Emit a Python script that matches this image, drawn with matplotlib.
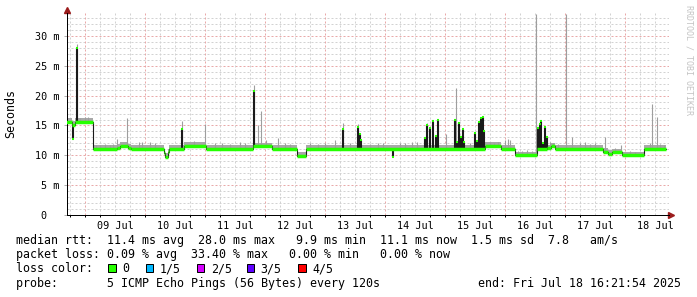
import numpy as np
import matplotlib.pyplot as plt
from matplotlib.patches import Rectangle

W, H = 697, 297
MONO = 'DejaVu Sans Mono'

# time axis: days since 09 Jul 00:00, graph ends Fri Jul 18 16:21:54
t_end = 9.682

# median rtt plateaus (step start, ms)
med_t = [-0.318, -0.217, -0.167, 0.125, 0.533, 0.583, 0.717, 0.767, 1.317, 1.333,
         1.383, 1.40, 1.65, 2.017, 2.80, 3.117, 3.533, 3.683, 6.667, 6.933,
         7.167, 7.533, 7.70, 7.767, 7.833, 8.633, 8.717, 8.783, 8.95, 9.317]
med_v = [15.6, 15.1, 15.6, 11.1, 11.3, 11.6, 11.3, 11.1, 10.4, 9.8,
         10.5, 11.1, 11.6, 11.1, 11.5, 11.1, 9.9, 11.1, 11.6, 11.1,
         10.0, 11.1, 11.2, 11.5, 11.1, 10.6, 10.3, 10.5, 10.0, 11.1]

# dense (dark) smoke columns where all pings moved
spike_t = [-0.192, -0.133, 1.617, 2.817, 4.30, 4.55, 4.575, 4.60, 5.133,
           5.667, 5.70, 5.75, 5.80, 5.842, 5.883,
           6.167, 6.20, 6.233, 6.267, 6.292, 6.317,
           6.50, 6.533, 6.567, 6.60, 6.625, 6.65,
           7.55, 7.583, 7.608, 7.633, 7.667, 7.692]
spike_v = [12.7, 28.0, 14.4, 20.7, 14.4, 14.8, 13.6, 12.6, 9.8,
           12.9, 15.1, 14.6, 15.8, 13.2, 16.0,
           15.9, 12.3, 15.5, 13.0, 14.4, 12.2,
           13.8, 12.4, 15.6, 16.3, 16.4, 14.0,
           14.6, 15.3, 15.8, 12.0, 14.8, 13.0]

# light smoke: max ping of a step
gray_t = [-0.083, 0.0, 0.05, -0.133, 0.183, 0.25, 0.333, 0.417, 0.467, 0.533,
          0.70, 0.90, 0.95, 1.083, 1.167, 1.617, 1.817, 2.0, 2.167, 2.283,
          2.417, 2.583, 2.667, 2.817, 2.883, 2.933, 3.017, 3.217, 3.333, 3.417,
          3.75, 3.883, 4.0, 4.167, 4.30, 4.417, 4.55, 4.75, 4.883, 4.967,
          5.25, 5.333, 5.45, 5.533, 5.70, 6.017, 6.183, 6.417, 6.75, 6.817,
          6.883, 7.0, 7.05, 7.083, 7.217, 7.283, 7.367, 7.45, 7.512, 7.75,
          7.80, 7.883, 8.012, 8.117, 8.25, 8.333, 8.417, 8.50, 8.667, 8.833,
          8.933, 9.083, 9.167, 9.417, 9.45, 9.533, 9.583, 9.65]
gray_v = [16.2, 16.4, 16.5, 28.6, 11.8, 11.7, 11.9, 11.8, 11.9, 12.7,
          16.3, 12.3, 12.3, 12.2, 12.1, 15.7, 12.4, 15.2, 12.1, 12.0,
          11.9, 12.2, 12.0, 21.8, 15.1, 17.4, 12.5, 12.9, 12.0, 11.9,
          12.1, 11.9, 12.0, 12.6, 15.5, 12.0, 15.2, 11.9, 12.0, 12.0,
          12.0, 12.0, 12.2, 12.3, 15.5, 13.6, 21.2, 12.0, 12.2, 12.1,
          12.3, 12.6, 12.8, 12.6, 10.8, 10.7, 10.9, 10.8, 33.6, 12.2,
          12.0, 11.9, 33.6, 13.0, 12.0, 12.2, 11.9, 12.1, 13.0, 11.3,
          11.7, 10.7, 10.6, 12.0, 18.6, 16.5, 11.9, 11.8]

day_labels = ['09 Jul', '10 Jul', '11 Jul', '12 Jul', '13 Jul',
              '14 Jul', '15 Jul', '16 Jul', '17 Jul', '18 Jul']

loss_names = ['0', '1/5', '2/5', '3/5', '4/5']
loss_colors = ['#26ff00', '#00b8ff', '#d400ff', '#5e00ff', '#ff0000']

rows = [
    'median rtt:  11.4 ms avg  28.0 ms max   9.9 ms min  11.1 ms now  1.5 ms sd  7.8   am/s',
    'packet loss: 0.09 % avg  33.40 % max   0.00 % min   0.00 % now',
    'loss color:',
    'probe:       5 ICMP Echo Pings (56 Bytes) every 120s',
]
end_text = 'end: Fri Jul 18 16:21:54 2025'

GREEN = loss_colors[0]

fig = plt.figure(figsize=(W / 100, H / 100), dpi=100)
fig.patch.set_facecolor('white')
ax = fig.add_axes([67 / W, 1 - 215 / H, (669 - 67) / W, (215 - 13) / H])
ax.set_xlim(-0.3, 9.733)
ax.set_ylim(0, 33.85)

# grid
for y in np.arange(1, 34):
    c = '#e9a9a9' if y % 5 == 0 else '#d2d2d2'
    ax.axhline(y, color=c, lw=0.72, ls=(0, (2, 2)), zorder=0)
for d in np.arange(-0.25, 9.75, 0.25):
    c = '#e9a9a9' if d == int(d) else '#d2d2d2'
    ax.axvline(d, color=c, lw=0.72, ls=(0, (2, 2)), zorder=0)

st = np.array(med_t + [t_end])
sv = np.array(med_v + [med_v[-1]])

def base_at(t):
    i = np.searchsorted(st, t, side='right') - 1
    return sv[np.clip(i, 0, len(med_v) - 1)]

# thin smoke band just above the median
ax.fill_between(st, sv, sv + 0.6, step='post', color='#a8a8a8', lw=0, zorder=1)

gt = np.array(gray_t)
ax.vlines(gt, base_at(gt), gray_v, color='#9e9e9e', lw=0.8, zorder=2)

kt = np.array(spike_t)
ax.vlines(kt, base_at(kt), spike_v, color='#1a1a1a', lw=1.5, zorder=3)

# median: black risers, green flats
ax.step(st, sv, where='post', color='#1a1a1a', lw=0.8, zorder=3)
ax.hlines(med_v, st[:-1], st[1:], color=GREEN, lw=2.5, zorder=4)
ax.plot(kt, spike_v, ls='none', marker='_', ms=2, mew=1.5, color=GREEN, zorder=5)

# axes
for s in ['top', 'right']:
    ax.spines[s].set_visible(False)
for s in ['left', 'bottom']:
    ax.spines[s].set_color('black')
    ax.spines[s].set_linewidth(0.72)

yt = np.arange(0, 31, 5)
ax.set_yticks(yt)
ax.set_yticklabels(['0  '] + [f'{v} m' for v in yt[1:]], family=MONO, fontsize=7.3)
ax.tick_params(axis='y', length=2.2, width=0.72, color='#b0b0b0', pad=3)

ax.set_xticks(np.arange(10) + 0.5)
ax.set_xticklabels(day_labels, family=MONO, fontsize=7.3)
ax.set_xticks(np.arange(-0.25, 9.75, 0.25), minor=True)
ax.tick_params(axis='x', which='major', length=0, pad=4)
ax.tick_params(axis='x', which='minor', length=1.5, width=0.72, color='black')

ax.plot(0, 1.015, marker='^', ms=4.5, color='#9b1c1c', transform=ax.transAxes, clip_on=False)
ax.plot(1.004, 0, marker='>', ms=4.5, color='#9b1c1c', transform=ax.transAxes, clip_on=False)

fig.text(11 / W, 1 - 114 / H, 'Seconds', rotation=90, ha='center', va='center',
         family=MONO, fontsize=8.37)
fig.text(688.5 / W, 1 - 60 / H, 'RRDTOOL / TOBI OETIKER', rotation=270,
         ha='center', va='center', family=MONO, fontsize=6, color='#c4c4c4')

# legend block
baselines = [243.7, 258.1, 272.5, 286.9]
for txt, b in zip(rows, baselines):
    fig.text(16 / W, 1 - b / H, txt, family=MONO, fontsize=8.37, va='baseline')
fig.text(478 / W, 1 - baselines[3] / H, end_text, family=MONO, fontsize=8.37, va='baseline')

box_x = [108.3, 145.7, 196.7, 246.7, 298.3]
for name, c, bx in zip(loss_names, loss_colors, box_x):
    fig.add_artist(Rectangle((bx / W, 1 - 271.5 / H), 7.7 / W, 7.7 / H,
                             transform=fig.transFigure, facecolor=c,
                             edgecolor='black', lw=0.72))
    fig.text((bx + 14) / W, 1 - baselines[2] / H, name, family=MONO,
             fontsize=8.37, va='baseline')

fig.savefig('out.png', dpi=100)
